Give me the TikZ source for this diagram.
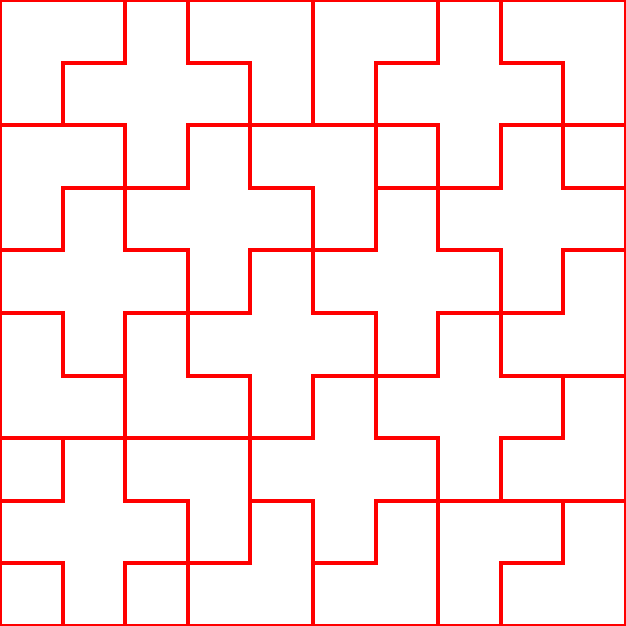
\documentclass[tikz,border=0pt]{standalone}
\usepackage{xcolor}
\usepackage{tikz}

\begin{document}
\begin{tikzpicture}[yscale=-1,
  wall/.style={draw=red,line width=1.75pt,line cap=rect}]
\useasboundingbox (0,0) rectangle (10,10);
\draw[wall] (0,0) rectangle (10,10);
% horizontal walls: row / from / to
\foreach \r/\a/\b in {1/1/2,1/3/4,1/6/7,1/8/9,
  2/0/2,2/3/7,2/8/10,
  3/1/3,3/4/5,3/6/8,3/9/10,
  4/0/1,4/2/3,4/4/6,4/7/8,4/9/10,
  5/0/1,5/2/4,5/5/6,5/7/9,
  6/1/2,6/3/4,6/5/7,6/8/10,
  7/0/5,7/6/7,7/8/9,
  8/0/1,8/2/3,8/4/5,8/6/10,
  9/0/1,9/2/4,9/5/6,9/8/9}
  \draw[wall] (\a,\r) -- (\b,\r);
% vertical walls: column / from / to
\foreach \c/\a/\b in {1/1/2,1/3/4,1/5/6,1/7/8,1/9/10,
  2/0/1,2/2/4,2/5/8,2/9/10,
  3/0/1,3/2/3,3/4/6,3/8/10,
  4/1/3,4/4/5,4/6/9,
  5/0/2,5/3/5,5/6/7,5/8/10,
  6/1/4,6/5/7,6/8/9,
  7/0/1,7/2/4,7/5/6,7/7/10,
  8/0/1,8/2/3,8/4/6,8/7/8,8/9/10,
  9/1/3,9/4/5,9/6/7,9/8/9}
  \draw[wall] (\c,\a) -- (\c,\b);
\end{tikzpicture}
\end{document}
